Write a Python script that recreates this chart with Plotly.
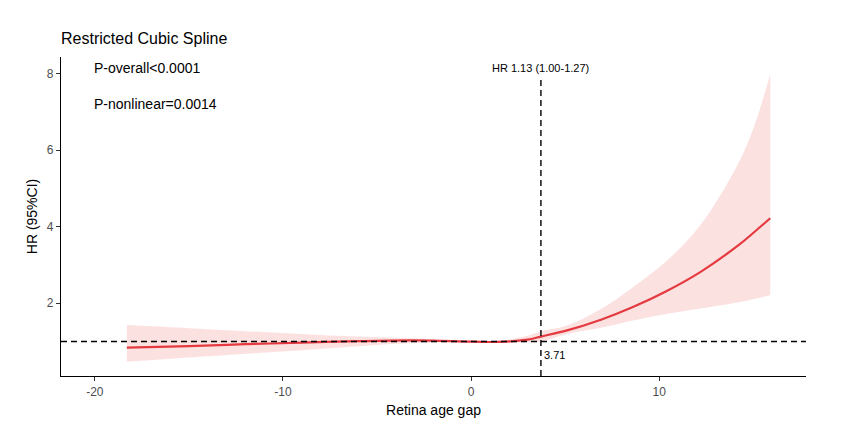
import plotly.graph_objects as go

# Data
age_gap = [-18.3, -15, -12, -9, -6, -3, 0, 1.5, 3, 3.71, 5.1, 6.9, 8.6, 10.4, 12.2, 14.3, 15.1, 15.9]
hr = [0.84, 0.88, 0.93, 0.97, 1.01, 1.03, 1.00, 0.99, 1.05, 1.13, 1.29, 1.57, 1.90, 2.32, 2.82, 3.55, 3.88, 4.22]
hr_upper = [1.43, 1.35, 1.27, 1.20, 1.13, 1.08, 1.01, 1.02, 1.15, 1.27, 1.42, 1.85, 2.42, 3.11, 4.05, 5.75, 6.70, 7.98]
hr_lower = [0.47, 0.58, 0.68, 0.77, 0.88, 0.96, 0.99, 0.97, 0.98, 1.00, 1.20, 1.36, 1.55, 1.72, 1.86, 2.03, 2.12, 2.21]
x_ticks = [-20, -10, 0, 10]
x_tick_labels = ["-20", "-10", "0", "10"]
y_ticks = [2, 4, 6, 8]
cutoff = 3.71
ref_hr = 1
title_text = "Restricted Cubic Spline"
p_overall = "P-overall<0.0001"
p_nonlinear = "P-nonlinear=0.0014"
hr_label = "HR 1.13 (1.00-1.27)"

FONT = "Liberation Sans, Arial, sans-serif"
x_range = [-21.8, 17.8]
y_range = [0.10, 8.43]

fig = go.Figure()
fig.add_trace(go.Scatter(x=age_gap, y=hr_lower, mode="lines", line=dict(width=0, shape="spline"),
                         showlegend=False, hoverinfo="skip"))
fig.add_trace(go.Scatter(x=age_gap, y=hr_upper, mode="lines", line=dict(width=0, shape="spline"),
                         fill="tonexty", fillcolor="rgba(250,200,200,0.55)", showlegend=False, hoverinfo="skip"))
fig.add_trace(go.Scatter(x=age_gap, y=hr, mode="lines", line=dict(color="#E4393F", width=2.2, shape="spline"),
                         showlegend=False))

# reference lines
fig.add_shape(type="line", xref="x", yref="y", x0=x_range[0], x1=x_range[1], y0=ref_hr, y1=ref_hr,
              line=dict(color="black", width=1.4, dash="6px,4px"))
fig.add_shape(type="line", xref="x", yref="y", x0=cutoff, x1=cutoff, y0=y_range[0], y1=7.86,
              line=dict(color="black", width=1.4, dash="6px,4px"))

fig.add_annotation(x=-20.15, y=8.14, xref="x", yref="y", text=p_overall, showarrow=False,
                   xanchor="left", yanchor="middle", font=dict(family=FONT, size=14, color="black"))
fig.add_annotation(x=-20.15, y=7.20, xref="x", yref="y", text=p_nonlinear, showarrow=False,
                   xanchor="left", yanchor="middle", font=dict(family=FONT, size=14, color="black"))
fig.add_annotation(x=cutoff, y=8.14, xref="x", yref="y", text=hr_label, showarrow=False,
                   xanchor="center", yanchor="middle", font=dict(family=FONT, size=11, color="black"))
fig.add_annotation(x=cutoff + 0.05, y=0.65, xref="x", yref="y", text=f"{cutoff}", showarrow=False,
                   xanchor="left", yanchor="middle", font=dict(family=FONT, size=11, color="black"))
fig.add_annotation(x=0, y=1 + (57 - 39) / 319, xref="paper", yref="paper", text=title_text, showarrow=False,
                   xanchor="left", yanchor="middle", xshift=-2, font=dict(family=FONT, size=16, color="black"))

# page body has an 8px default margin, so offsets are compensated here
fig.update_layout(
    width=868, height=430,
    margin=dict(l=53, r=70, t=49, b=62, autoexpand=False),
    paper_bgcolor="white", plot_bgcolor="white",
    font=dict(family=FONT),
)
fig.update_xaxes(range=x_range, tickvals=x_ticks, ticktext=x_tick_labels, showgrid=False, zeroline=False,
                 automargin=False, showline=True, linecolor="black", linewidth=1.2, ticks="outside", ticklen=4,
                 tickcolor="#333333", tickfont=dict(family=FONT, size=12, color="#4d4d4d"),
                 title=dict(text="Retina age gap", font=dict(family=FONT, size=14, color="black"), standoff=7))
fig.update_yaxes(range=y_range, tickvals=y_ticks, showgrid=False, zeroline=False, automargin=False,
                 showline=True, linecolor="black", linewidth=1.2, ticks="outside", ticklen=4,
                 tickcolor="#333333", tickfont=dict(family=FONT, size=12, color="#4d4d4d"),
                 title=dict(text="HR (95%CI)", font=dict(family=FONT, size=14, color="black"), standoff=5))

fig.write_html("out.html")
